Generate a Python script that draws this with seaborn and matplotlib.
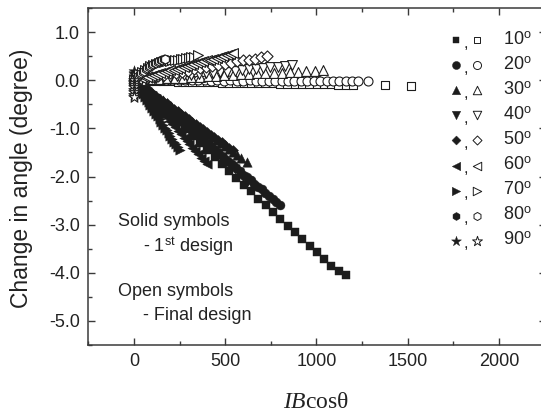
import matplotlib
matplotlib.use("Agg")
import matplotlib.pyplot as plt
import seaborn as sns
from matplotlib.ticker import MultipleLocator

# ---------------- data ----------------
angles = [10, 20, 30, 40, 50, 60, 70, 80, 90]
markers = ["s", "o", "^", "v", "D", "<", ">", "h", "*"]

# Solid symbols - 1st design
s10_x = [0, 40, 81, 120, 161, 200, 242, 281, 322, 361, 402, 442, 481, 522, 561, 602, 641, 682, 722, 762,
         801, 842, 882, 921, 962, 1001, 1042, 1081, 1121, 1160]
s10_y = [0.0, -0.14, -0.29, -0.43, -0.58, -0.72, -0.87, -1.01, -1.16, -1.30, -1.45, -1.59, -1.74, -1.88,
         -2.03, -2.17, -2.31, -2.46, -2.60, -2.74, -2.88, -3.02, -3.16, -3.30, -3.44, -3.57, -3.71, -3.85,
         -3.97, -4.05]
s20_x = [0, 20, 40, 60, 80, 100, 120, 140, 160, 180, 200, 220, 240, 260, 280, 300, 320, 340, 360, 380,
         400, 420, 440, 460, 480, 500, 520, 540, 560, 580, 600, 620, 640, 660, 680, 700, 720, 740, 760,
         780, 800]
s20_y = [0.0, -0.07, -0.13, -0.20, -0.26, -0.33, -0.40, -0.46, -0.53, -0.59, -0.66, -0.72, -0.79, -0.85,
         -0.92, -0.98, -1.05, -1.11, -1.18, -1.24, -1.31, -1.37, -1.44, -1.50, -1.57, -1.63, -1.70, -1.76,
         -1.83, -1.89, -1.96, -2.02, -2.08, -2.15, -2.21, -2.27, -2.34, -2.40, -2.47, -2.54, -2.60]
s30_x = [0, 22, 45, 68, 90, 113, 136, 158, 181, 204, 226, 249, 272, 294, 317, 340, 362, 385, 408, 430,
         453, 476, 498, 521, 544, 566, 589, 620]
s30_y = [0.0, -0.06, -0.12, -0.18, -0.24, -0.30, -0.36, -0.42, -0.48, -0.54, -0.61, -0.67, -0.74, -0.80,
         -0.87, -0.93, -0.99, -1.06, -1.12, -1.18, -1.25, -1.31, -1.37, -1.43, -1.50, -1.56, -1.62, -1.70]
s40_x = [0, 24, 48, 72, 96, 120, 144, 168, 192, 216, 240, 264, 288, 312, 336, 360, 384, 408, 432, 456,
         480, 504, 528, 552, 576, 600, 624, 660]
s40_y = [0.0, -0.08, -0.16, -0.24, -0.32, -0.40, -0.48, -0.56, -0.64, -0.72, -0.80, -0.88, -0.96, -1.04,
         -1.12, -1.20, -1.28, -1.36, -1.44, -1.53, -1.61, -1.69, -1.77, -1.85, -1.93, -2.01, -2.09, -2.22]
s50_x = [0, 20, 40, 60, 80, 100, 120, 140, 160, 180, 200, 220, 240, 260, 280, 300, 320, 340, 360, 380,
         400, 420, 440, 460, 480, 500, 520, 540]
s50_y = [0.0, -0.05, -0.11, -0.16, -0.21, -0.27, -0.32, -0.38, -0.43, -0.48, -0.54, -0.59, -0.64, -0.70,
         -0.75, -0.81, -0.86, -0.91, -0.97, -1.02, -1.07, -1.13, -1.18, -1.24, -1.29, -1.34, -1.40, -1.45]
s60_x = [0, 16, 32, 48, 64, 80, 96, 112, 128, 144, 160, 176, 192, 208, 224, 240, 256, 272, 288, 304,
         320, 336, 352, 368, 384, 400]
s60_y = [0.0, -0.07, -0.14, -0.21, -0.28, -0.35, -0.42, -0.49, -0.56, -0.63, -0.70, -0.77, -0.84, -0.91,
         -0.98, -1.05, -1.12, -1.19, -1.26, -1.33, -1.40, -1.47, -1.54, -1.61, -1.68, -1.75]
s70_x = [0, 10, 20, 30, 40, 50, 60, 70, 80, 90, 100, 110, 120, 130, 140, 150, 160, 170, 180, 190, 200,
         210, 220, 230, 240, 250]
s70_y = [0.0, -0.06, -0.12, -0.17, -0.23, -0.29, -0.35, -0.41, -0.46, -0.52, -0.58, -0.64, -0.70, -0.75,
         -0.81, -0.87, -0.93, -0.99, -1.04, -1.10, -1.16, -1.22, -1.28, -1.33, -1.39, -1.45]
s80_x = [0, 10, 20, 30, 40, 50, 60, 70, 80, 90, 100, 110, 120, 130, 140, 150]
s80_y = [0.0, -0.05, -0.09, -0.14, -0.19, -0.24, -0.28, -0.33, -0.38, -0.42, -0.47, -0.52, -0.56, -0.61,
         -0.66, -0.70]
s90_x = [0, 1, -1, 2, 0, 1]
s90_y = [0.0, 0.04, 0.08, 0.12, 0.16, 0.20]

# Open symbols - Final design
o10_x = [0, 40, 80, 121, 160, 201, 240, 281, 320, 361, 400, 441, 480, 521, 560, 601, 640, 681, 720, 761,
         800, 841, 880, 921, 960, 1001, 1040, 1081, 1120, 1161, 1200, 1375, 1520]
o10_y = [0.0, -0.01, -0.01, -0.02, -0.02, -0.02, -0.03, -0.03, -0.03, -0.04, -0.04, -0.04, -0.05, -0.05,
         -0.05, -0.05, -0.06, -0.06, -0.06, -0.06, -0.07, -0.07, -0.07, -0.07, -0.08, -0.08, -0.08, -0.08,
         -0.09, -0.09, -0.09, -0.10, -0.11]
o20_x = [0, 35, 70, 105, 140, 176, 211, 246, 281, 316, 351, 387, 422, 457, 492, 527, 562, 598, 633, 668,
         703, 738, 773, 809, 844, 879, 914, 949, 984, 1020, 1055, 1090, 1125, 1160, 1195, 1230, 1280]
o20_y = [0.0, 0.01, 0.01, 0.01, 0.00, 0.01, 0.00, 0.00, 0.01, 0.00, 0.00, 0.00, -0.01, 0.00, -0.01, 0.00,
         -0.01, -0.01, 0.00, -0.01, -0.01, -0.01, -0.01, -0.02, -0.01, -0.01, -0.02, -0.01, -0.02, -0.01,
         -0.02, -0.02, -0.01, -0.02, -0.02, -0.01, -0.02]
o30_x = [0, 45, 90, 135, 180, 225, 270, 315, 360, 405, 450, 495, 540, 585, 630, 675, 720, 765, 810, 855,
         900, 945, 990, 1035]
o30_y = [0.0, 0.01, 0.02, 0.03, 0.04, 0.05, 0.05, 0.06, 0.07, 0.08, 0.09, 0.10, 0.11, 0.12, 0.13, 0.14,
         0.15, 0.16, 0.16, 0.17, 0.18, 0.19, 0.20, 0.21]
o40_x = [0, 40, 79, 118, 158, 197, 236, 276, 315, 354, 394, 433, 472, 512, 551, 590, 630, 669, 708, 748,
         787, 826, 865]
o40_y = [0.0, 0.01, 0.03, 0.04, 0.06, 0.07, 0.08, 0.10, 0.11, 0.13, 0.14, 0.16, 0.17, 0.18, 0.20, 0.21,
         0.23, 0.24, 0.25, 0.27, 0.28, 0.30, 0.31]
o50_x = [0, 33, 66, 99, 132, 165, 198, 231, 264, 297, 331, 364, 397, 430, 463, 496, 529, 562, 595, 628,
         661, 695, 728]
o50_y = [0.0, 0.02, 0.05, 0.07, 0.09, 0.11, 0.14, 0.16, 0.18, 0.20, 0.23, 0.25, 0.27, 0.30, 0.32, 0.34,
         0.36, 0.39, 0.41, 0.43, 0.45, 0.48, 0.50]
o60_x = [0, 18, 36, 54, 72, 91, 109, 127, 145, 163, 181, 199, 217, 235, 253, 272, 290, 308, 326, 344,
         362, 380, 398, 416, 434, 453, 471, 489, 507, 525, 543]
o60_y = [0.0, 0.02, 0.04, 0.06, 0.07, 0.09, 0.11, 0.13, 0.15, 0.17, 0.19, 0.21, 0.22, 0.24, 0.26, 0.28,
         0.30, 0.32, 0.34, 0.35, 0.37, 0.39, 0.41, 0.43, 0.45, 0.47, 0.49, 0.50, 0.52, 0.54, 0.56]
o70_x = [0, 15, 30, 45, 60, 75, 90, 105, 120, 135, 150, 165, 180, 195, 210, 225, 240, 255, 270, 285, 300,
         315, 330, 350]
o70_y = [0.0, 0.06, 0.12, 0.17, 0.22, 0.26, 0.29, 0.32, 0.34, 0.36, 0.37, 0.38, 0.39, 0.40, 0.41, 0.42,
         0.43, 0.44, 0.45, 0.46, 0.47, 0.48, 0.49, 0.52]
o80_x = [0, 8, 16, 24, 32, 40, 48, 57, 65, 73, 81, 90, 98, 106, 114, 122, 130, 138, 146, 154, 162, 170]
o80_y = [0.0, 0.03, 0.06, 0.09, 0.12, 0.15, 0.18, 0.20, 0.23, 0.25, 0.27, 0.29, 0.31, 0.33, 0.35, 0.36,
         0.38, 0.39, 0.41, 0.42, 0.44, 0.45]
o90_x = [0, 2, -2, 1, -1, 2, 0, 1]
o90_y = [0.0, -0.05, -0.10, -0.15, -0.20, -0.25, -0.30, -0.35]

solid = [(s10_x, s10_y), (s20_x, s20_y), (s30_x, s30_y), (s40_x, s40_y), (s50_x, s50_y),
         (s60_x, s60_y), (s70_x, s70_y), (s80_x, s80_y), (s90_x, s90_y)]
opened = [(o10_x, o10_y), (o20_x, o20_y), (o30_x, o30_y), (o40_x, o40_y), (o50_x, o50_y),
          (o60_x, o60_y), (o70_x, o70_y), (o80_x, o80_y), (o90_x, o90_y)]

x_ticks = [0, 500, 1000, 1500, 2000]
y_ticks = [1.0, 0.0, -1.0, -2.0, -3.0, -4.0, -5.0]

# ---------------- style ----------------
sns.set_theme(style="ticks")
plt.rcParams["font.family"] = ["Liberation Sans", "DejaVu Sans"]
plt.rcParams["mathtext.fontset"] = "custom"
plt.rcParams["mathtext.rm"] = "Liberation Serif"
plt.rcParams["mathtext.it"] = "Liberation Serif:italic"
plt.rcParams["mathtext.sf"] = "Liberation Sans"

INK = "#1c1c1c"
AX = "#3a3a3a"
TXT = "#222222"
W, H = 541, 416

fig = plt.figure(figsize=(W / 100, H / 100), dpi=100)
ax = fig.add_axes([88 / W, 1 - 345 / H, 457.5 / W, 337 / H])

solid_size = {"s": 28, "o": 42, "^": 46, "v": 46, "D": 26, "<": 46, ">": 46, "h": 42, "*": 70}
open_size = {"s": 32, "o": 42, "^": 50, "v": 50, "D": 32, "<": 50, ">": 50, "h": 42, "*": 70}

for (xs, ys), mk in zip(solid, markers):
    sns.scatterplot(x=xs, y=ys, marker=mk, s=solid_size[mk], color=INK, edgecolor=INK,
                    linewidth=0.3, ax=ax, legend=False, zorder=2)

for (xs, ys), mk in zip(opened, markers):
    sns.scatterplot(x=xs, y=ys, marker=mk, s=open_size[mk], color=INK, facecolor="white",
                    edgecolor=INK, linewidth=0.8, ax=ax, legend=False, zorder=3)

ax.set_xlim(-252, 2255)
ax.set_ylim(-5.5, 1.5)
ax.set_xticks(x_ticks)
ax.set_yticks(y_ticks)
ax.set_xticklabels([str(v) for v in x_ticks])
ax.set_yticklabels([f"{v:.1f}" for v in y_ticks])
ax.xaxis.set_minor_locator(MultipleLocator(250))
ax.yaxis.set_minor_locator(MultipleLocator(0.5))
ax.tick_params(which="both", direction="in", top=True, right=True, color=AX, width=1.0)
ax.tick_params(which="major", length=5, labelsize=13, labelcolor=TXT, pad=6)
ax.tick_params(which="minor", length=3)
for sp in ax.spines.values():
    sp.set_color(AX)
    sp.set_linewidth(1.1)
ax.set_xlabel("")
ax.set_ylabel("")

# axis titles
fig.text(22 / W, 1 - 178 / H, "Change in angle (degree)", rotation=90, ha="center", va="center",
         fontsize=16.5, color=TXT)
fig.text(316 / W, 1 - 402 / H, r"$\mathit{IB}\mathrm{cos\theta}$", ha="center", va="center",
         fontsize=17, color=TXT)

# notes
def ftext(px, py, s):
    fig.text(px / W, 1 - py / H, s, ha="left", va="center", fontsize=13, color=TXT)

ftext(118, 222, "Solid symbols")
ftext(143, 247, r"- 1$^{\mathsf{st}}$ design")
ftext(118, 292, "Open symbols")
ftext(143, 316, "- Final design")

# key column at the right: filled, open, angle
for i, (ang, mk) in enumerate(zip(angles, markers)):
    py = 40 + 25.1 * i
    fy = 1 - py / H
    ay = (345 - py) / 337
    ls = solid_size[mk] * 0.8
    ax.scatter([(456 - 88) / 457.5], [ay], transform=ax.transAxes, marker=mk, s=ls,
               color=INK, edgecolor=INK, linewidth=0.3, clip_on=False, zorder=4)
    ax.scatter([(477 - 88) / 457.5], [ay], transform=ax.transAxes, marker=mk, s=ls,
               facecolor="white", edgecolor=INK, linewidth=0.7, clip_on=False, zorder=4)
    fig.text(466 / W, fy - 3 / H, ",", ha="center", va="center", fontsize=12, color=TXT)
    fig.text(503 / W, fy, f"{ang}" + r"$^{\mathsf{o}}$", ha="left", va="center", fontsize=13,
             color=TXT)

fig.savefig("out.png", dpi=100)
